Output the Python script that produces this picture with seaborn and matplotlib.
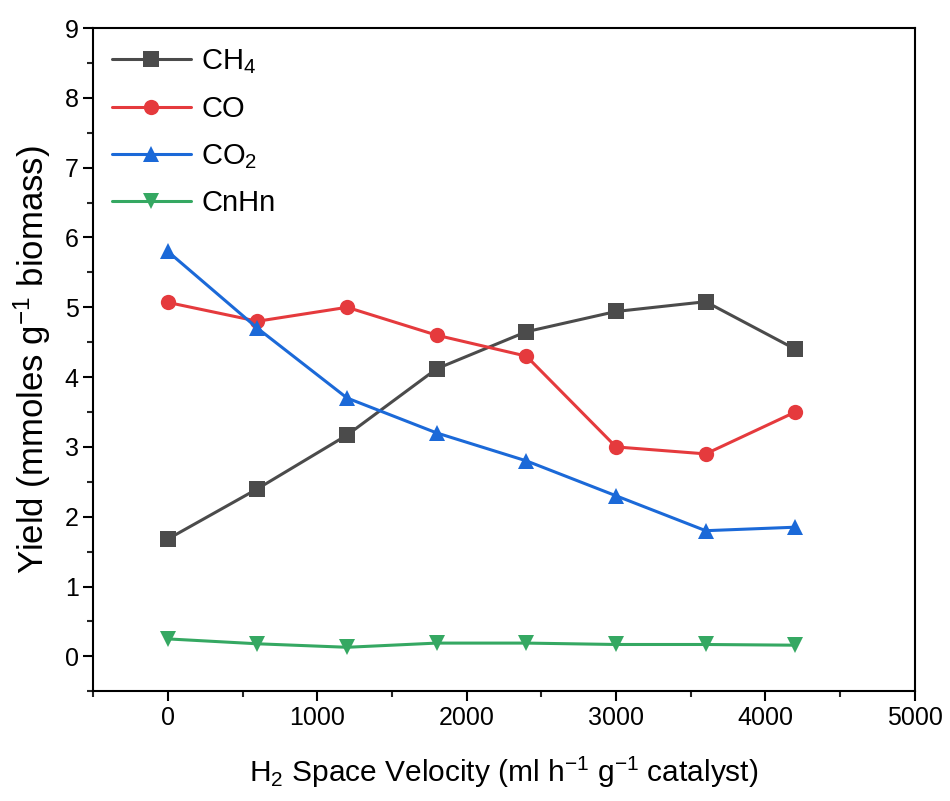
import seaborn as sns
import matplotlib.pyplot as plt
import pandas as pd
from matplotlib.ticker import MultipleLocator

# H2 space velocity (ml h-1 g-1 catalyst)
velocity = [0, 600, 1200, 1800, 2400, 3000, 3600, 4200]

# Gas yields (mmoles g-1 biomass)
ch4 = [1.68, 2.40, 3.17, 4.12, 4.65, 4.94, 5.08, 4.40]
co = [5.07, 4.80, 5.00, 4.60, 4.30, 3.00, 2.90, 3.50]
co2 = [5.80, 4.70, 3.70, 3.20, 2.80, 2.30, 1.80, 1.85]
cnhn = [0.25, 0.18, 0.13, 0.19, 0.19, 0.17, 0.17, 0.16]

series_names = ["CH$_4$", "CO", "CO$_2$", "CnHn"]
colors = ["#4b4b4b", "#e53a3d", "#1b69d8", "#35a862"]
markers = ["s", "o", "^", "v"]

# long-form table for seaborn
df = pd.concat([
    pd.DataFrame({"x": velocity, "y": vals, "gas": name})
    for name, vals in zip(series_names, [ch4, co, co2, cnhn])
])

sns.set_theme(style="ticks")
plt.rcParams["font.family"] = ["Liberation Sans", "DejaVu Sans"]
plt.rcParams["mathtext.default"] = "regular"

fig = plt.figure(figsize=(9.5, 8.01), dpi=100)
ax = fig.add_axes([0.098, 0.137, 0.865, 0.828])

sns.lineplot(data=df, x="x", y="y", hue="gas", style="gas",
             palette=dict(zip(series_names, colors)),
             markers=dict(zip(series_names, markers)),
             dashes=False, linewidth=2.2, markersize=11,
             markeredgewidth=0, ax=ax)

ax.set_xlim(-500, 5000)
ax.set_ylim(-0.5, 9)
ax.xaxis.set_major_locator(MultipleLocator(1000))
ax.xaxis.set_minor_locator(MultipleLocator(500))
ax.yaxis.set_major_locator(MultipleLocator(1))
ax.yaxis.set_minor_locator(MultipleLocator(0.5))
ax.tick_params(which="major", direction="out", length=7, width=1.5,
               labelsize=18, colors="black", top=False, right=False)
ax.tick_params(which="minor", direction="out", length=4, width=1.5,
               top=False, right=False)
for s in ax.spines.values():
    s.set_linewidth(1.5)
    s.set_color("black")

ax.set_xlabel("H$_2$ Space Velocity (ml h$^{-1}$ g$^{-1}$ catalyst)",
              fontsize=21.5, labelpad=18, color="black")
ax.set_ylabel("Yield (mmoles g$^{-1}$ biomass)", fontsize=25, labelpad=8,
              color="black")

leg = ax.legend(loc="upper left", frameon=False, fontsize=21, handlelength=2.7,
                handletextpad=0.35, labelspacing=0.65, borderaxespad=0.0,
                borderpad=0.65)
for t in leg.get_texts():
    t.set_color("black")

fig.savefig("out.png", dpi=100)
